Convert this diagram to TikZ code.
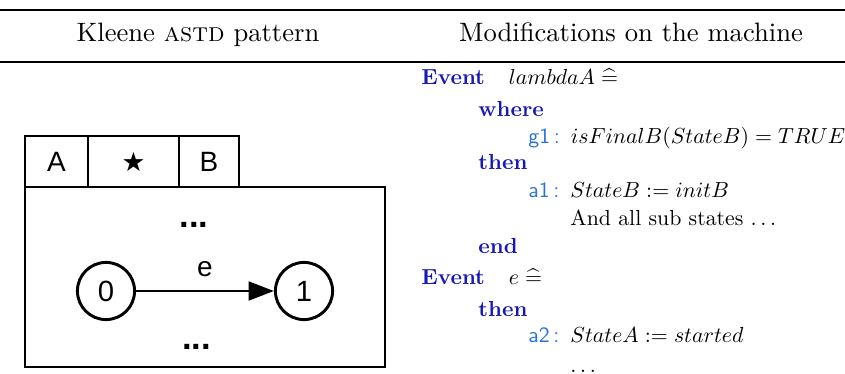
\documentclass[tikz,border=0pt]{standalone}
\usepackage{amsmath}
\usepackage{amssymb}
\usepackage{graphicx}
\usepackage{fontspec}
\newfontfamily\diagfont{Liberation Sans}
\newfontfamily\symfont{DejaVu Sans}
\usetikzlibrary{arrows.meta}
\definecolor{kwblue}{RGB}{24,24,180}
\definecolor{lblblue}{RGB}{40,115,215}
\tikzstyle{arrow}=[-{Triangle[length=9.5pt,width=7pt]}]
\tikzstyle{state}=[circle,draw,minimum size=21.5pt,inner sep=0pt,font=\diagfont\fontsize{11}{12}\selectfont]
\tikzstyle{label}=[font=\diagfont\fontsize{10.5}{12}\selectfont]
\tikzstyle{dots}=[anchor=base,font=\diagfont\bfseries\fontsize{13}{14}\selectfont]
\tikzstyle{code}=[anchor=base west,inner sep=0pt]
\newcommand{\kw}[1]{\textcolor{kwblue}{\textbf{#1}}}
\newcommand{\lbl}[1]{\textcolor{lblblue}{\textsf{#1\,:}}\hspace{5pt}}
\newcommand{\codeline}[1]{\scalebox{0.82}{#1}}
\newcommand{\defeq}{\mathrel{\widehat{=}}}

\begin{document}
\begin{tikzpicture}[x=0.376pt,y=-0.376pt,line width=1.1pt]
  \useasboundingbox (0,0) rectangle (845,374);
  \draw[line width=0.6pt] (0,10) -- (845,10);
  \draw[line width=0.5pt] (0,62) -- (845,62);
  \node[anchor=base] (colleft) at (198,42) {Kleene \textsc{astd} pattern};
  \node[anchor=base] (colright) at (631,42) {Modifications on the machine};

  % the kleene astd with its name tabs
  \draw (25,136) rectangle (239,187);
  \draw (88,136) -- (88,187) (179,136) -- (179,187);
  \draw (25,187) rectangle (385,367);
  \node[label] (tabA) at (56.5,162) {A};
  \node[font=\symfont\fontsize{10}{12}\selectfont] (tabstar) at (133.5,162) {★};
  \node[label] (tabB) at (209,162) {B};
  \node[dots] (dotstop) at (194,228) {...};
  \node[dots] (dotsbot) at (196.5,350) {...};
  \node[state] (s0) at (106,291) {0};
  \node[state] (s1) at (304,291) {1};
  \draw[arrow] (s0) -- node[label,above=1.5pt] {e} (s1);

  % events of the machine
  \node[code] (ev1) at (420,85) {\codeline{\kw{Event}\hspace{11pt}$lambdaA \defeq$}};
  \node[code] (where1) at (477,117) {\codeline{\kw{where}}};
  \node[code] (g1) at (527,144) {\codeline{\lbl{g1}$isFinalB(StateB) = TRUE$}};
  \node[code] (then1) at (477,170) {\codeline{\kw{then}}};
  \node[code] (a1) at (527,198) {\codeline{\lbl{a1}$StateB := initB$}};
  \node[code] (sub1) at (569,226) {\codeline{And all sub states $\ldots$}};
  \node[code] (end1) at (477,253) {\codeline{\kw{end}}};
  \node[code] (ev2) at (420,285) {\codeline{\kw{Event}\hspace{11pt}$e \defeq$}};
  \node[code] (then2) at (477,317) {\codeline{\kw{then}}};
  \node[code] (a2) at (527,343) {\codeline{\lbl{a2}$StateA := started$}};
  \node[code] (more2) at (569,372) {\codeline{$\ldots$}};
\end{tikzpicture}
\end{document}
